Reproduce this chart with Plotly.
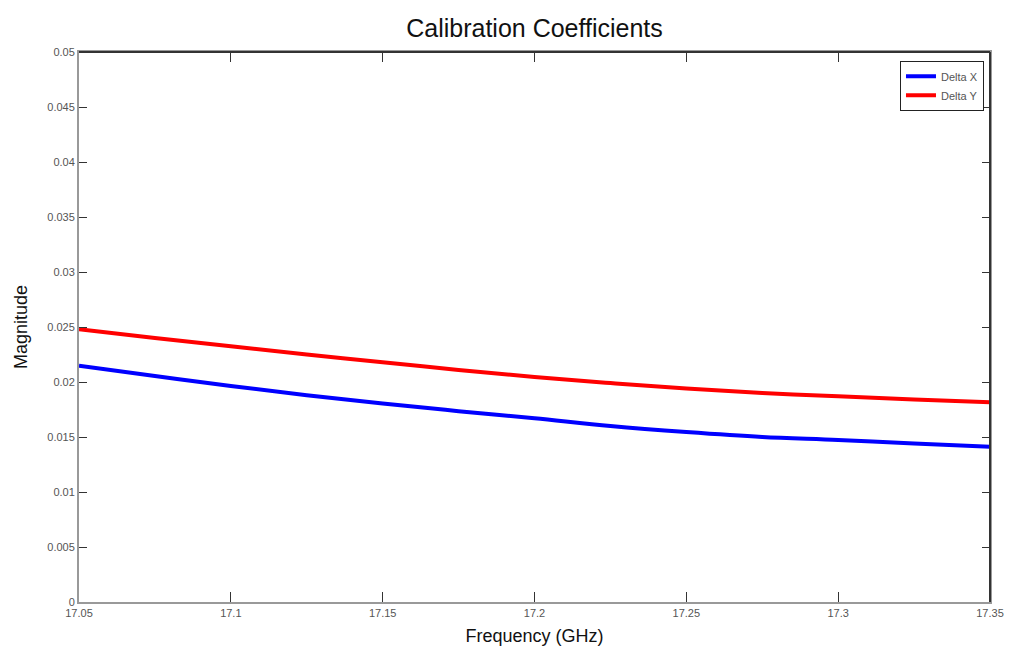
import plotly.graph_objects as go

# Frequency sweep (GHz) and calibration coefficient magnitudes
freq_ghz = [17.05, 17.075, 17.1, 17.125, 17.15, 17.175, 17.2,
            17.225, 17.25, 17.275, 17.3, 17.325, 17.35]
delta_x = [0.02148, 0.02055, 0.01964, 0.0188, 0.01805, 0.01735, 0.0167,
           0.0160, 0.01545, 0.0150, 0.01473, 0.0144, 0.01412]
delta_y = [0.0248, 0.0240, 0.02325, 0.0225, 0.0218, 0.0211, 0.02045,
           0.0199, 0.0194, 0.0190, 0.0187, 0.0184, 0.01815]

x_ticks = [17.05, 17.1, 17.15, 17.2, 17.25, 17.3, 17.35]
x_tick_text = ["17.05", "17.1", "17.15", "17.2", "17.25", "17.3", "17.35"]
y_ticks = [0, 0.005, 0.01, 0.015, 0.02, 0.025, 0.03, 0.035, 0.04, 0.045, 0.05]
y_tick_text = ["0", "0.005", "0.01", "0.015", "0.02", "0.025", "0.03",
               "0.035", "0.04", "0.045", "0.05"]

FONT = "Liberation Sans, Arial, sans-serif"

fig = go.Figure()
fig.add_trace(go.Scatter(x=freq_ghz, y=delta_x, mode="lines", name="Delta X",
                         line=dict(color="#0000ff", width=4, shape="spline")))
fig.add_trace(go.Scatter(x=freq_ghz, y=delta_y, mode="lines", name="Delta Y",
                         line=dict(color="#ff0000", width=4, shape="spline")))

axis_common = dict(showgrid=False, zeroline=False, showline=True,
                   linecolor="#999999", linewidth=2, ticks="inside",
                   tickcolor="#333333", mirror="ticks", automargin=False,
                   tickfont=dict(family=FONT, size=11, color="#555555"))

fig.update_xaxes(range=[17.05, 17.35], tickvals=x_ticks, ticktext=x_tick_text,
                 ticklen=10, title=dict(text="Frequency (GHz)", standoff=11,
                                        font=dict(family=FONT, size=18, color="#111111")),
                 **axis_common)
fig.update_yaxes(range=[0, 0.05], tickvals=y_ticks, ticktext=y_tick_text,
                 ticklen=8, title=dict(text="Magnitude", standoff=15,
                                       font=dict(family=FONT, size=18, color="#111111")),
                 **axis_common)

# darker frame on the top and right edges
fig.add_shape(type="line", xref="paper", yref="paper", x0=0, x1=1, y0=1, y1=1,
              line=dict(color="#333333", width=2))
fig.add_shape(type="line", xref="paper", yref="paper", x0=1, x1=1, y0=0, y1=1,
              line=dict(color="#333333", width=2))

fig.update_layout(
    width=1011, height=649,
    margin=dict(l=79, r=21, t=52, b=47),
    paper_bgcolor="white", plot_bgcolor="white",
    title=dict(text="Calibration Coefficients", x=0.5, xref="paper", xanchor="center",
               y=0.957, yanchor="middle",
               font=dict(family=FONT, size=25, color="#111111")),
    legend=dict(x=0.9934, xanchor="right", y=0.984, yanchor="top",
                bgcolor="white", bordercolor="#222222", borderwidth=1,
                font=dict(family=FONT, size=11, color="#555555"),
                tracegroupgap=0),
    showlegend=True,
)

fig.write_html("out.html")
